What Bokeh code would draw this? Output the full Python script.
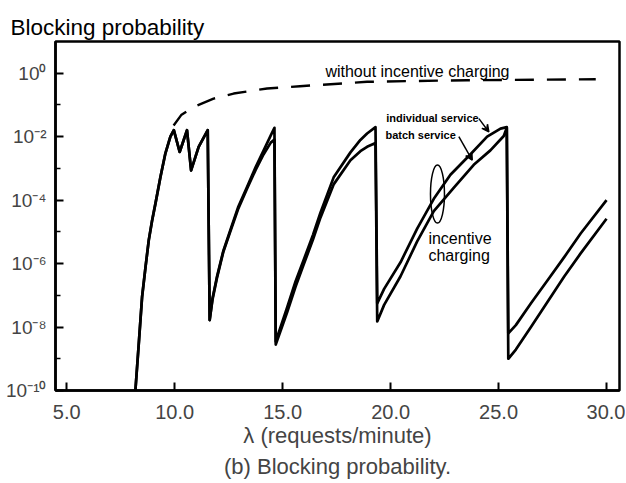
from bokeh.plotting import figure
from bokeh.models import (Range1d, FixedTicker, CustomJSTickFormatter, PrintfTickFormatter,
                          Title, Arrow, VeeHead, Label)
from bokeh.embed import file_html
from bokeh.resources import INLINE

FONT = "Liberation Sans"

# ---- data ----
lam_individual = [8.18, 8.35, 8.49, 8.65, 8.80, 8.95, 9.11, 9.34, 9.57, 9.80, 9.96, 10.23, 10.57, 10.76,
                  11.11, 11.53, 11.62,
                  11.75, 11.96, 12.25, 12.58, 12.95, 13.35, 13.75, 14.12, 14.45, 14.62, 14.68,
                  15.2, 15.6, 15.99, 16.4, 16.75, 17.37, 18.14, 18.6, 18.91, 19.3, 19.38,
                  19.7, 20.46, 21.23, 22.0, 22.77, 23.7, 24.47, 25.09, 25.38, 25.45,
                  25.8, 26.5, 27.27, 28.04, 28.8, 30.0]
p_individual = [1e-10, 4e-9, 8.9e-8, 7.9e-7, 5.5e-6, 2.2e-5, 7.9e-5, 5.4e-4, 3e-3, 1e-2, 1.6e-2, 3.3e-3, 1.6e-2, 8.7e-4,
                4.8e-3, 1.6e-2, 1.66e-8,
                7.9e-8, 3.9e-7, 2.5e-6, 1.15e-5, 6.3e-5, 2.6e-4, 1.1e-3, 3.7e-3, 1.1e-2, 1.9e-2, 3.5e-9,
                4e-8, 2.8e-7, 1.4e-6, 7.9e-6, 4e-5, 5.4e-4, 3.2e-3, 7.9e-3, 1.26e-2, 2e-2, 5.6e-8,
                1.6e-7, 1.1e-6, 1.26e-5, 1.1e-4, 6.3e-4, 2.8e-3, 1e-2, 1.8e-2, 2e-2, 6.3e-9,
                1.15e-8, 5.6e-8, 3e-7, 1.6e-6, 8.9e-6, 1e-4]

lam_batch = [8.18, 8.35, 8.49, 8.65, 8.80, 8.95, 9.11, 9.34, 9.57, 9.80, 9.96, 10.23, 10.57, 10.76,
             11.11, 11.53, 11.62,
             11.75, 11.96, 12.25, 12.58, 12.95, 13.35, 13.75, 14.12, 14.45, 14.62, 14.68,
             15.2, 15.6, 15.99, 16.4, 16.75, 17.37, 18.14, 18.6, 18.91, 19.3, 19.38,
             19.7, 20.46, 21.23, 22.0, 22.93, 23.85, 24.62, 25.24, 25.38, 25.45,
             25.8, 26.5, 27.27, 28.04, 28.8, 30.0]
p_batch = [1e-10, 4e-9, 8.9e-8, 7.9e-7, 5.5e-6, 2.2e-5, 7.9e-5, 5.4e-4, 3e-3, 1e-2, 1.6e-2, 3.3e-3, 1.6e-2, 8.7e-4,
           4.8e-3, 1.6e-2, 1.66e-8,
           7.2e-8, 3.6e-7, 2.3e-6, 1.05e-5, 5.5e-5, 2.3e-4, 9e-4, 2.8e-3, 6.5e-3, 8.1e-3, 2.8e-9,
           2.8e-8, 1.9e-7, 1e-6, 5.6e-6, 2.8e-5, 3.2e-4, 1.8e-3, 3.5e-3, 4.8e-3, 6.3e-3, 1.5e-8,
           5e-8, 4e-7, 5e-6, 4.5e-5, 2.5e-4, 1.3e-3, 3.7e-3, 1.05e-2, 1.9e-2, 1e-9,
           1.95e-9, 1e-8, 6.3e-8, 3.9e-7, 2.1e-6, 2.6e-5]

lam_no_incentive = [9.95, 10.3, 10.88, 11.8, 12.73, 14.28, 15.8, 18.91, 23.54, 29.5]
p_no_incentive = [0.0224, 0.0479, 0.0871, 0.158, 0.229, 0.331, 0.389, 0.537, 0.603, 0.646]

x_ticks = [5, 10, 15, 20, 25, 30]
y_major_ticks = [1e-10, 1e-8, 1e-6, 1e-4, 1e-2, 1e0]
y_minor_ticks = [1e-9, 1e-7, 1e-5, 1e-3, 1e-1]

# ---- figure ----
p = figure(width=625, height=482,
           x_range=Range1d(4.48, 30.6), y_range=Range1d(1e-10, 1e1),
           y_axis_type="log", output_backend="svg", toolbar_location=None,
           min_border_left=55, min_border_right=6, min_border_top=41, min_border_bottom=92,
           background_fill_color="white", border_fill_color="white")

p.xgrid.visible = False
p.ygrid.visible = False
p.outline_line_color = "black"
p.outline_line_width = 2.5

p.title.text = "Blocking probability"
p.title.align = "left"
p.title.offset = -45
p.title.standoff = 4
p.title.text_font = FONT
p.title.text_font_size = "22.5px"
p.title.text_font_style = "normal"
p.title.text_color = "black"

# x axis
xa = p.xaxis[0]
xa.ticker = FixedTicker(ticks=x_ticks, minor_ticks=[])
xa.formatter = PrintfTickFormatter(format="%.1f")
xa.axis_label = "λ (requests/minute)"
xa.axis_label_text_font = FONT
xa.axis_label_text_font_size = "22px"
xa.axis_label_text_font_style = "normal"
xa.axis_label_standoff = 1
xa.major_label_text_font = FONT
xa.major_label_text_font_size = "20px"
xa.major_label_standoff = 14
xa.major_tick_in = 8
xa.major_tick_out = 0
xa.minor_tick_line_color = None
xa.axis_line_width = 2.5
xa.major_tick_line_width = 2

# y axis
ya = p.yaxis[0]
ya.ticker = FixedTicker(ticks=y_major_ticks, minor_ticks=y_minor_ticks)
ya.formatter = CustomJSTickFormatter(code="""
const sup = {"0":"\u2070","1":"\u00b9","2":"\u00b2","3":"\u00b3","4":"\u2074","5":"\u2075",
             "6":"\u2076","7":"\u2077","8":"\u2078","9":"\u2079","-":"\u207b"};
const e = Math.round(Math.log10(tick));
return "10" + String(e).split("").map(c => sup[c]).join("");
""")
ya.major_label_text_font = FONT
ya.major_label_text_font_size = "19px"
ya.major_label_standoff = 9
ya.major_tick_in = 8
ya.major_tick_out = 0
ya.minor_tick_in = 5
ya.minor_tick_out = 0
ya.axis_line_width = 2.5
ya.major_tick_line_width = 2
ya.minor_tick_line_width = 1.5

caption = Title(text="(b) Blocking probability.", align="center", text_font=FONT,
                text_font_size="22px", text_font_style="normal", standoff=3)
p.add_layout(caption, "below")

# ---- curves ----
p.line(lam_no_incentive, p_no_incentive, line_color="black", line_width=2.4,
       line_dash="19 13")
p.line(lam_individual, p_individual, line_color="black", line_width=2.7, line_join="round")
p.line(lam_batch, p_batch, line_color="black", line_width=2.7, line_join="round")

# ellipse marking the pair of curves
p.ellipse(x=[22.17], y=[1.55e-4], width=[14], height=[58], width_units="screen",
          height_units="screen", fill_color=None, line_color="black", line_width=1.5)

# ---- annotations ----
def lab(x, y, t, size, style="normal"):
    p.add_layout(Label(x=x, y=y, text=t, text_font=FONT, text_font_size=size,
                       text_font_style=style, text_baseline="middle", text_align="left",
                       text_color="black"))

lab(16.98, 1.16, "without incentive charging", "16px")
lab(19.8, 0.038, "individual service", "11px", "bold")
lab(19.76, 0.0112, "batch service", "11px", "bold")
lab(21.75, 6.3e-6, "incentive", "16px")
lab(21.75, 1.86e-6, "charging", "16px")

p.add_layout(Arrow(x_start=24.09, y_start=0.037, x_end=24.55, y_end=0.0141,
                   line_width=1.5, end=VeeHead(size=7, fill_color="black", line_width=1.5)))
p.add_layout(Arrow(x_start=23.16, y_start=0.01, x_end=23.78, y_end=0.00182,
                   line_width=1.5, end=VeeHead(size=7, fill_color="black", line_width=1.5)))

with open("out.html", "w", encoding="utf-8") as f:
    f.write(file_html(p, INLINE))
